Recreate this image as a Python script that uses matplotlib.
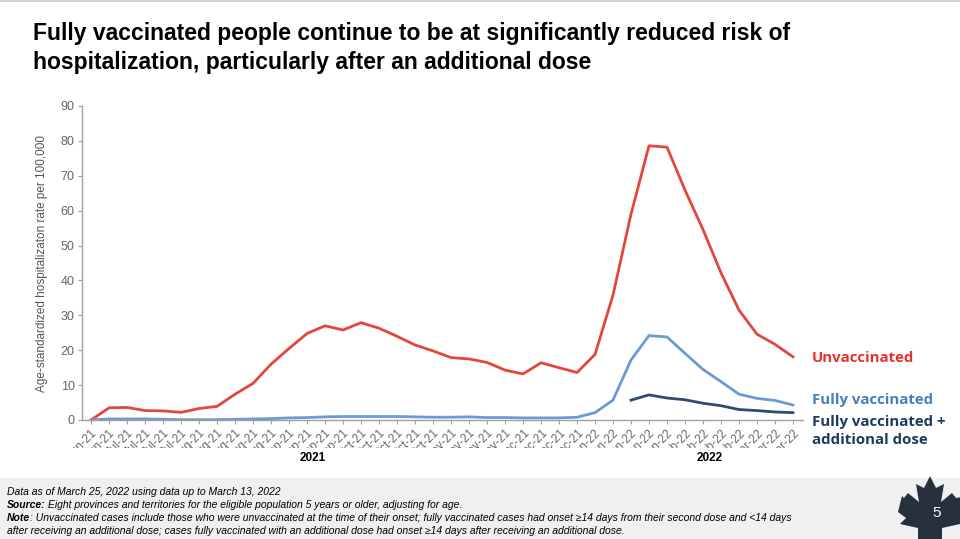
import numpy as np
import matplotlib
matplotlib.use("Agg")
import matplotlib.pyplot as plt
from matplotlib.patches import Rectangle, Polygon
from matplotlib.transforms import Bbox, TransformedBbox

plt.rcParams['font.family'] = ['Liberation Sans', 'DejaVu Sans']

# weekly labels (month-year), Jun 2021 to Mar 2022
week_labels = ["Jun-21", "Jun-21", "Jul-21", "Jul-21", "Jul-21", "Jul-21",
               "Aug-21", "Aug-21", "Aug-21", "Aug-21", "Aug-21",
               "Sep-21", "Sep-21", "Sep-21", "Sep-21",
               "Oct-21", "Oct-21", "Oct-21", "Oct-21", "Oct-21",
               "Nov-21", "Nov-21", "Nov-21", "Nov-21",
               "Dec-21", "Dec-21", "Dec-21", "Dec-21",
               "Jan-22", "Jan-22", "Jan-22", "Jan-22", "Jan-22",
               "Feb-22", "Feb-22", "Feb-22", "Feb-22",
               "Mar-22", "Mar-22", "Mar-22"]

unvaccinated = [0.0, 3.5, 3.6, 2.7, 2.6, 2.2, 3.3, 3.9, 7.4, 10.5,
                16.0, 20.5, 24.8, 27.0, 25.8, 27.9, 26.3, 24.0, 21.5, 19.8,
                17.9, 17.5, 16.5, 14.3, 13.2, 16.4, 15.0, 13.6, 18.8, 35.8,
                59.0, 78.6, 78.2, 65.9, 54.6, 42.2, 31.5, 24.6, 21.7, 18.1]

fully_vaccinated = [0.0, 0.3, 0.3, 0.3, 0.2, 0.1, 0.1, 0.1, 0.2, 0.3,
                    0.4, 0.6, 0.7, 0.9, 1.0, 1.0, 1.0, 1.0, 0.9, 0.8,
                    0.8, 0.9, 0.7, 0.7, 0.6, 0.6, 0.6, 0.8, 2.1, 5.7,
                    17.2, 24.2, 23.8, 19.1, 14.5, 11.0, 7.4, 6.2, 5.6, 4.3]

additional_dose = [np.nan] * 30 + [5.7, 7.2, 6.3, 5.8, 4.8, 4.1, 3.0, 2.7, 2.3, 2.1]

x = np.arange(len(week_labels))

W, H = 960, 539
fig = plt.figure(figsize=(9.6, 5.39), dpi=100)

def fx(px):
    return px / W

def fy(py):
    return 1 - py / H

# footer band and thin top border
fig.patches.append(Rectangle((0, 0), 1, 61 / H, transform=fig.transFigure,
                             facecolor="#eff0f2", edgecolor="none", zorder=0))
fig.patches.append(Rectangle((0, fy(2)), 1, 2 / H, transform=fig.transFigure,
                             facecolor="#d0d0d0", edgecolor="none", zorder=0))

# title
fig.text(fx(33), fy(48),
         "Fully vaccinated people continue to be at significantly reduced risk of\n"
         "hospitalization, particularly after an additional dose",
         fontweight="bold", fontsize=16.5, va="center", ha="left",
         linespacing=1.35, color="#000000")

ax = fig.add_axes([fx(81.7), 119 / H, 721 / W, 314 / H])
ax.plot(x, unvaccinated, color="#e2463d", lw=2.0)
ax.plot(x, fully_vaccinated, color="#6c9bd2", lw=2.0)
ax.plot(x, additional_dose, color="#2f4b73", lw=2.0)

ax.set_xlim(-0.52, 39.54)
ax.set_ylim(0, 90)
ax.set_yticks(np.arange(0, 91, 10))
ax.set_xticks(x)
ax.set_xticklabels(week_labels, rotation=45, ha="right", rotation_mode="anchor",
                   fontsize=8.5, color="#666666")
ax.tick_params(axis="y", labelsize=9, labelcolor="#666666", color="#a0a0a0",
               length=3, width=0.8, pad=2)
ax.tick_params(axis="x", color="#a0a0a0", length=3, width=0.8, pad=2)
for s in ["top", "right"]:
    ax.spines[s].set_visible(False)
for s in ["left", "bottom"]:
    ax.spines[s].set_color("#a0a0a0")
    ax.spines[s].set_linewidth(1.0)

ax.set_ylabel("Age-standardized hospitalizaton rate per 100,000", fontsize=8.5,
              color="#555555", labelpad=9)

# clip the tick labels like the cropped original
clip = TransformedBbox(Bbox([[0, fy(448)], [1, fy(427)]]), fig.transFigure)
for lbl in ax.get_xticklabels():
    lbl.set_clip_box(clip)
    lbl.set_clip_on(True)

fig.text(fx(313), fy(458), "2021", fontsize=8.5, fontweight="bold",
         ha="center", va="center")
fig.text(fx(710), fy(458), "2022", fontsize=8.5, fontweight="bold",
         ha="center", va="center")

# series labels
lab_font = ['Open Sans', 'DejaVu Sans']
fig.text(fx(812), fy(358), "Unvaccinated", family=lab_font, fontweight="bold",
         fontsize=10.8, color="#e8322c", va="center")
fig.text(fx(812), fy(400), "Fully vaccinated", family=lab_font, fontweight="bold",
         fontsize=10.8, color="#4a7ebb", va="center")
fig.text(fx(812), fy(431), "Fully vaccinated +\nadditional dose", family=lab_font,
         fontweight="bold", fontsize=10.8, color="#1f3a5f", va="center", linespacing=1.35)

# footer notes, pieces placed one after another
fs = 7.5
renderer = fig.canvas.get_renderer()

def run(y, parts):
    xpos = fx(7)
    for txt, bold in parts:
        t = fig.text(xpos, fy(y), txt, style="italic", fontsize=fs, va="center",
                     fontweight="bold" if bold else "normal")
        bb = t.get_window_extent(renderer)
        xpos = bb.x1 / W + (2.5 / W if txt.endswith(":") else 0)

run(492, [("Data as of March 25, 2022 using data up to March 13, 2022", False)])
run(505, [("Source:", True),
          ("Eight provinces and territories for the eligible population 5 years or older, adjusting for age.", False)])
run(518, [("Note", True),
          (": Unvaccinated cases include those who were unvaccinated at the time of their onset; "
           "fully vaccinated cases had onset \u226514 days from their second dose and <14 days", False)])
run(531, [("after receiving an additional dose; cases fully vaccinated with an additional dose "
           "had onset \u226514 days after receiving an additional dose.", False)])

# maple leaf corner mark
leaf_px = [(930, 476), (936, 488), (944, 484), (941, 502), (952, 493), (956, 498),
           (968, 496), (962, 512), (970, 518), (960, 524), (942, 528), (942, 539),
           (918, 539), (918, 528), (900, 524), (906, 518), (898, 512), (902, 496),
           (904, 498), (908, 493), (919, 502), (916, 484), (924, 488)]
leaf = Polygon([(fx(px), fy(py)) for px, py in leaf_px], closed=True,
               transform=fig.transFigure, facecolor="#27303d", edgecolor="none")
fig.patches.append(leaf)
fig.text(fx(937), fy(513), "5", color="white", fontsize=11, ha="center", va="center")

fig.savefig("out.png", dpi=100)
